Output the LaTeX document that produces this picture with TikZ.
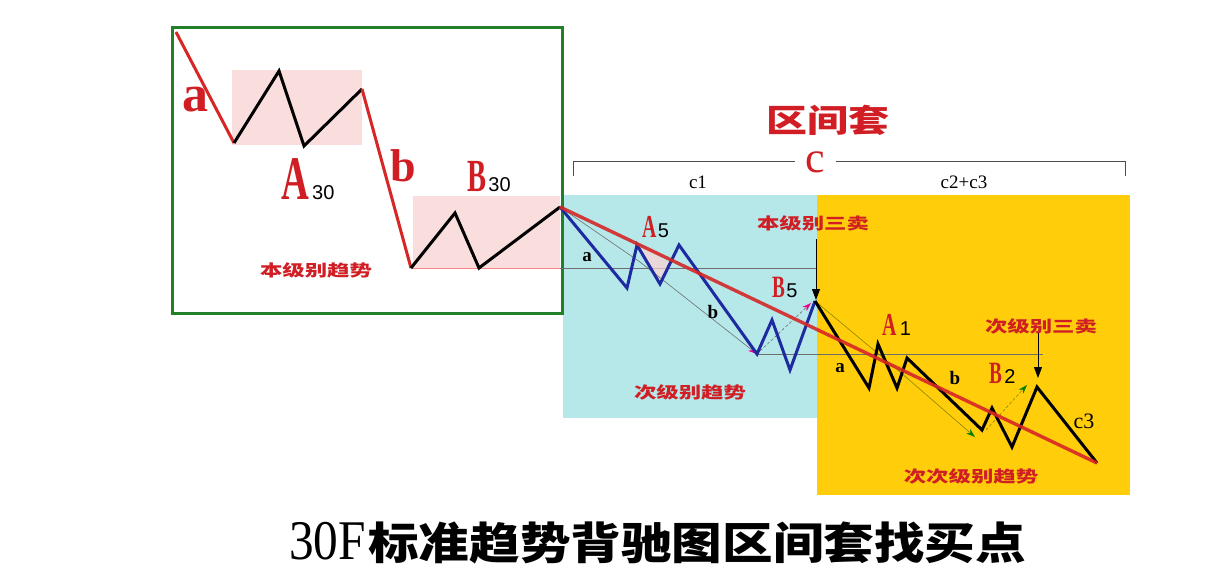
\documentclass[tikz,border=0pt]{standalone}
\usepackage{fontspec}
\setmainfont{Liberation Serif}
\newfontfamily\sansfont{Liberation Sans}
\newfontfamily\cjkfont{Noto Sans CJK SC}
\usetikzlibrary{arrows.meta}

\definecolor{labelred}{RGB}{208,30,36}
\definecolor{linered}{RGB}{214,38,38}
\definecolor{pinkfill}{RGB}{250,222,222}
\definecolor{cyanfill}{RGB}{182,232,234}
\definecolor{goldfill}{RGB}{255,205,10}
\definecolor{framegreen}{RGB}{34,128,40}
\definecolor{waveblue}{RGB}{30,42,160}
\definecolor{guidegray}{RGB}{110,110,110}

\tikzset{
  wave/.style={line width=3pt, line join=miter},
  guide/.style={line width=0.6pt, guidegray},
  pinktip/.style={-{Stealth[length=9pt,width=6pt,color=magenta]}},
  greentip/.style={-{Stealth[length=9pt,width=6pt,color=green!50!black]}},
  pointer/.style={line width=0.8pt, black, -{Triangle[length=11pt,width=8pt]}},
  cnlabel/.style={font=\cjkfont\bfseries\fontsize{16}{16}\selectfont, text=labelred, xscale=1.4, transform shape, inner sep=0pt},
  bigletter/.style={text=labelred, inner sep=0pt, anchor=base west, xscale=0.62, transform shape},
  subnum/.style={font=\sansfont\fontsize{20}{20}\selectfont, inner sep=0pt, anchor=base west},
  smallletter/.style={font=\bfseries\fontsize{19}{19}\selectfont, inner sep=0pt}
}

\begin{document}
\begin{tikzpicture}[x=1pt, y=-1pt]
    \useasboundingbox (0,0) rectangle (1210,578);
    \fill[white] (0,0) rectangle (1210,578);

    % Panels
    \fill[cyanfill] (563,195) rectangle (817,418);
    \fill[goldfill] (817,195) rectangle (1130,495);
    \fill[pinkfill] (232,70) rectangle (362,145);
    \fill[pinkfill] (413,196) rectangle (560,268);
    \draw[framegreen, line width=3pt] (172,28) rectangle (562,313);

    % Points of the waves
    \coordinate (p0) at (176,32);
    \coordinate (p1) at (234,143);
    \coordinate (p2) at (279,71);
    \coordinate (p3) at (304,146);
    \coordinate (p4) at (362,89);
    \coordinate (p5) at (411,268);
    \coordinate (p6) at (455,213);
    \coordinate (p7) at (479,268);
    \coordinate (p8) at (560,207);
    \coordinate (q1) at (627,288);
    \coordinate (q2) at (637,245);
    \coordinate (q3) at (660,284);
    \coordinate (q4) at (679,245);
    \coordinate (q5) at (757,354);
    \coordinate (q6) at (772,320);
    \coordinate (q7) at (790,370);
    \coordinate (q8) at (815,301);
    \coordinate (r1) at (869,388);
    \coordinate (r2) at (878,344);
    \coordinate (r3) at (897,388);
    \coordinate (r4) at (907,358);
    \coordinate (r5) at (982,430);
    \coordinate (r6) at (992,408);
    \coordinate (r7) at (1012,447);
    \coordinate (r8) at (1037,387);
    \coordinate (r9) at (1097,463);

    % Guide lines
    \draw[line width=0.7pt, pinkfill!60!red] (p5) -- (560,268);
    \draw[guide] (560,268) -- (816,268);
    \draw[guide] (q5) -- (1043,354);
    \fill[pink!70, opacity=0.7] (q2) -- (q3) -- (q4) -- (669,262) -- cycle;
    \draw[guide, pinktip] (p8) -- (640,262) -- (q5);
    \draw[guide, densely dashed, pinktip] (760,351) -- (811,303);
    \draw[guide, olive] (q8) -- (900,372);
    \draw[guide, olive, greentip] (900,372) -- (975,437);
    \draw[guide, densely dashed, olive, greentip] (986,430) -- (1027,385);

    % Arrows to the sell points
    \coordinate (bsell) at (816,239);
    \coordinate (ssell) at (1038,332);
    \draw[pointer] (bsell) -- (816,300);
    \draw[pointer] (ssell) -- (1038,378);

    % Waves
    \draw[wave, linered] (p0) -- (p1);
    \draw[wave, black] (p1) -- (p2) -- (p3) -- (p4);
    \draw[wave, linered] (p4) -- (p5);
    \draw[wave, black] (p5) -- (p6) -- (p7) -- (p8);
    \draw[wave, waveblue] (p8) -- (q1) -- (q2) -- (q3) -- (q4) -- (q5) -- (q6) -- (q7) -- (q8);
    \draw[wave, black] (q8) -- (r1) -- (r2) -- (r3) -- (r4) -- (r5) -- (r6) -- (r7) -- (r8) -- (r9);
    \draw[line width=3.4pt, linered, opacity=0.9] (p8) -- (r9);

    % Bracket for c
    \coordinate (bl) at (573,176);
    \coordinate (br) at (1125,176);
    \node[text=labelred, font=\fontsize{44}{44}\selectfont, inner sep=0pt, anchor=base] (cmain) at (815,172) {c};
    \draw[line width=0.8pt, black!70] (bl) -- (573,161) -- (795,161);
    \draw[line width=0.8pt, black!70] (836,161) -- (1125,161) -- (br);
    \node[font=\fontsize{19}{19}\selectfont, inner sep=0pt] (c1) at (698,182) {c1};
    \node[font=\fontsize{19}{19}\selectfont, inner sep=0pt] (c23) at (964,182) {c2+c3};
    \node[font=\cjkfont\bfseries\fontsize{32}{32}\selectfont, text=labelred, xscale=1.28, transform shape, inner sep=0pt] (title) at (828,120) {区间套};

    % Node Labels
    \node[text=labelred, font=\bfseries\fontsize{52}{52}\selectfont, inner sep=0pt] (la) at (195,100) {a};
    \node[text=labelred, font=\bfseries\fontsize{46}{46}\selectfont, inner sep=0pt] (lb) at (403,166) {b};
    \node[bigletter, font=\bfseries\fontsize{62}{62}\selectfont] (lA) at (281,199) {A};
    \node[subnum] at ([xshift=3pt]lA.base east) {30};
    \node[bigletter, font=\bfseries\fontsize{46}{46}\selectfont] (lB) at (467,191) {B};
    \node[subnum] at ([xshift=2pt]lB.base east) {30};
    \node[cnlabel] (trend1) at (316,270) {本级别趋势};

    \node[smallletter] (a5) at (587,257) {a};
    \node[smallletter] (b5) at (713,312) {b};
    \node[bigletter, font=\bfseries\fontsize{32}{32}\selectfont] (lA5) at (642,237) {A};
    \node[subnum] at ([xshift=1pt]lA5.base east) {5};
    \node[bigletter, font=\bfseries\fontsize{31}{31}\selectfont] (lB5) at (772,297) {B};
    \node[subnum] at ([xshift=1pt]lB5.base east) {5};
    \node[cnlabel] (sell1) at (813,223) {本级别三卖};
    \node[cnlabel] (trend2) at (690,392) {次级别趋势};

    \node[smallletter] (a1) at (840,368) {a};
    \node[smallletter] (b1) at (955,378) {b};
    \node[bigletter, font=\bfseries\fontsize{32}{32}\selectfont] (lA1) at (882,335) {A};
    \node[subnum] at ([xshift=3pt]lA1.base east) {1};
    \node[bigletter, font=\bfseries\fontsize{31}{31}\selectfont] (lB2) at (989,383) {B};
    \node[subnum] at ([xshift=2pt]lB2.base east) {2};
    \node[font=\fontsize{22}{22}\selectfont, inner sep=0pt] (c3) at (1084,421) {c3};
    \node[cnlabel] (sell2) at (1041,326) {次级别三卖};
    \node[cnlabel] (trend3) at (971,476) {次次级别趋势};

    % Caption
    \node[font=\fontsize{56}{56}\selectfont, xscale=0.88, transform shape, anchor=base west, inner sep=0pt] (cap30) at (289,559) {30F};
    \node[font=\cjkfont\bfseries\fontsize{44}{44}\selectfont, xscale=1.15, transform shape, anchor=base west, inner sep=0pt] (capcn) at ([xshift=2pt]cap30.base east) {标准趋势背驰图区间套找买点};
\end{tikzpicture}
\end{document}
